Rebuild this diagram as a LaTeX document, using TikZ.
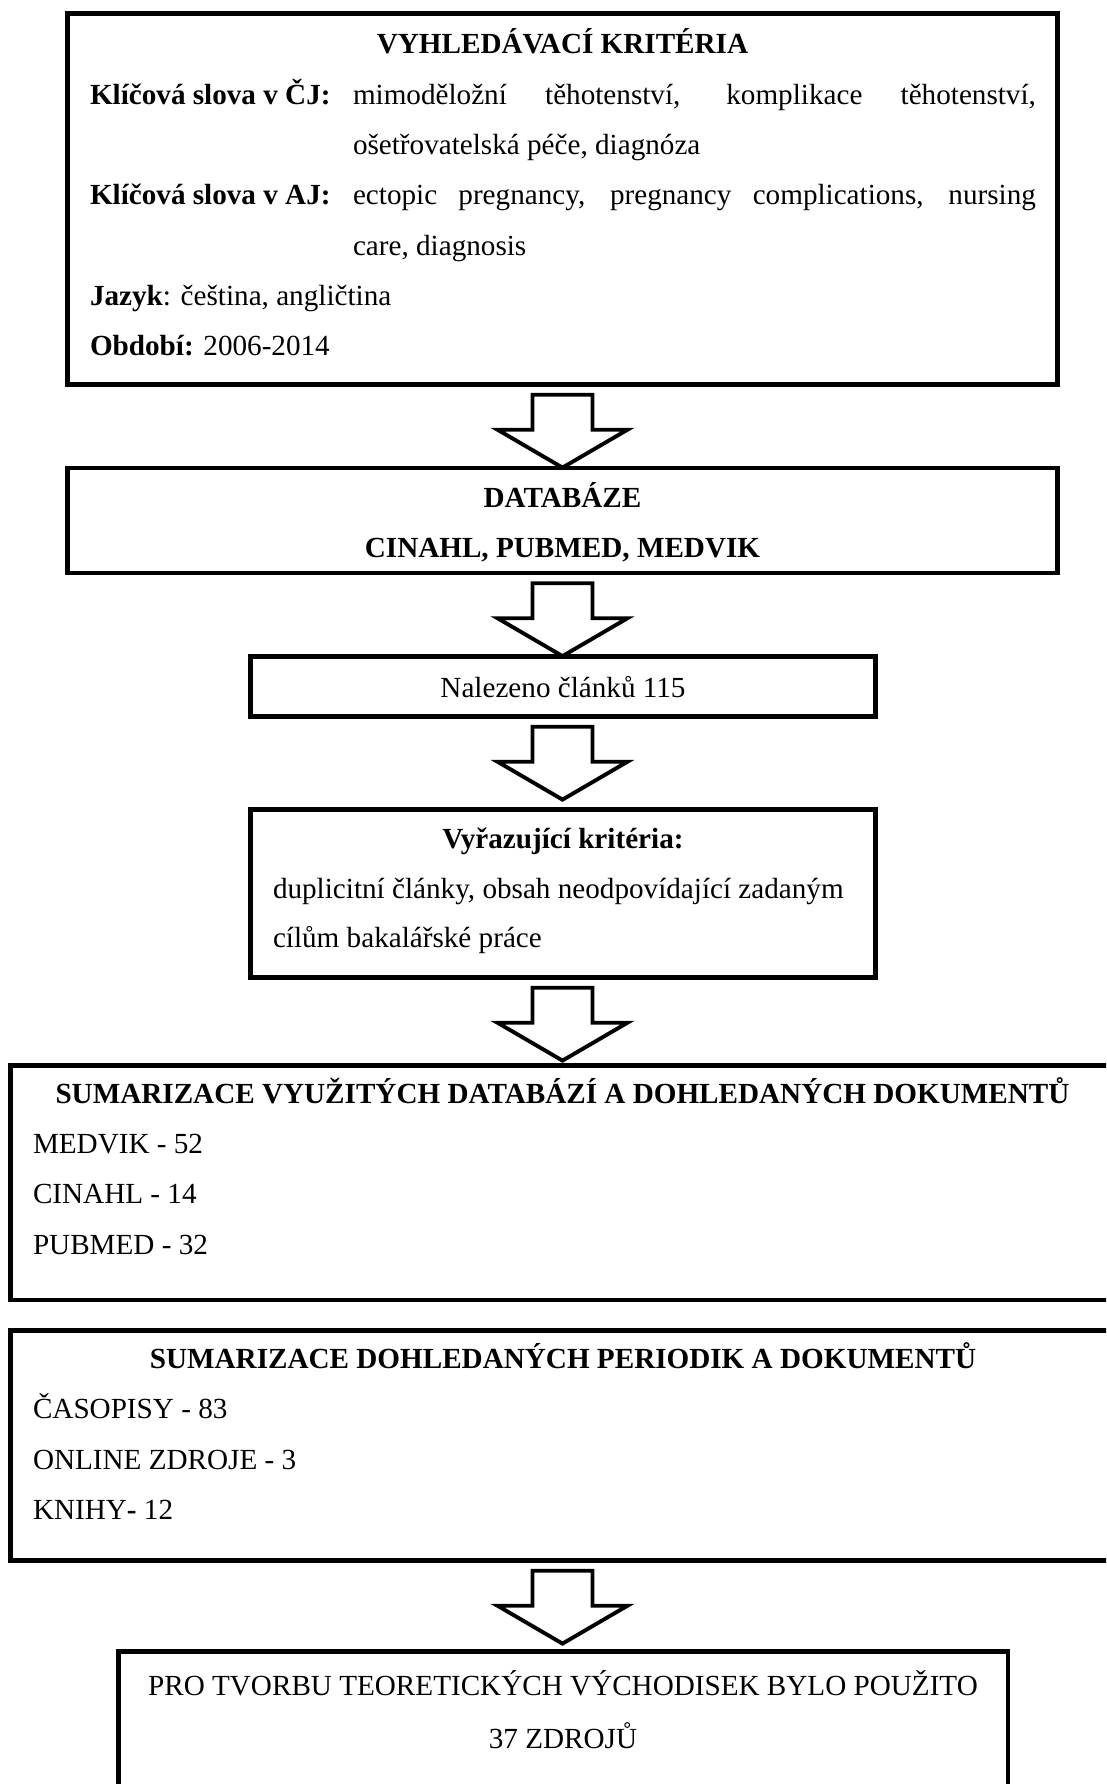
\documentclass[tikz,border=0pt]{standalone}
\usepackage{fontspec}
\setmainfont{Liberation Serif}
\usetikzlibrary{calc}
\tikzset{
  box/.style={draw, line width=2pt, rectangle, inner sep=0pt},
  txt/.style={inner sep=0pt, outer sep=0pt, font=\fontsize{12}{14}\selectfont},
  lft/.style={txt, anchor=base west},
  ctr/.style={txt, anchor=base},
  barrow/.style={draw, line width=1.6pt, fill=white, line join=miter},
}
\newcommand\blockarrow[2]{%
  \draw[barrow] let \p1=(#1.south), \p2=(#2.north), \p3=(b1.south) in
    (\x3-12.35pt,\y1-3.2pt) -- (\x3+12.35pt,\y1-3.2pt) -- (\x3+12.35pt,\y1-17.6pt)
    -- (\x3+26.75pt,\y1-17.6pt) -- (\x3,\y1-33.2pt) -- (\x3-26.75pt,\y1-17.6pt)
    -- (\x3-12.35pt,\y1-17.6pt) -- cycle;}
\begin{document}
\begin{tikzpicture}[x=0.4115pt, y=-0.4115pt]
\clip (0,0) rectangle (1106,1784);
\fill[white] (0,0) rectangle (1106,1784);

% boxes
\node[box, minimum width=990*0.4115pt, minimum height=371*0.4115pt] (b1) at (562.5,199) {};
\node[box, minimum width=990*0.4115pt, minimum height=105*0.4115pt] (b2) at (562.5,520.5) {};
\node[box, minimum width=625*0.4115pt, minimum height=60*0.4115pt] (b3) at (563,686.5) {};
\node[box, minimum width=625*0.4115pt, minimum height=168*0.4115pt] (b4) at (563,893.5) {};
\node[box, minimum width=1139.5*0.4115pt, minimum height=234.5*0.4115pt] (b5) at (580.25,1182.75) {};
\node[box, minimum width=1139.5*0.4115pt, minimum height=230*0.4115pt] (b6) at (580.25,1445.5) {};
\node[box, minimum width=889.5*0.4115pt, minimum height=220*0.4115pt] (b7) at (563.25,1761.5) {};

% arrows
\blockarrow{b1}{b2}
\blockarrow{b2}{b3}
\blockarrow{b3}{b4}
\blockarrow{b4}{b5}
\blockarrow{b6}{b7}

% box 1 text
\node[ctr] (t1) at (562.5,54) {\textbf{VYHLEDÁVACÍ KRITÉRIA}};
\node[lft] (l1) at (90,104.3) {\textbf{Klíčová slova v ČJ:}};
\node[lft] (v1) at (353,104.3) {\makebox[281pt][s]{mimoděložní těhotenství, komplikace těhotenství,}};
\node[lft] (v2) at (353,154.6) {ošetřovatelská péče, diagnóza};
\node[lft] (l2) at (90,204.9) {\textbf{Klíčová slova v AJ:}};
\node[lft] (v3) at (353,204.9) {\makebox[281pt][s]{ectopic pregnancy, pregnancy complications, nursing}};
\node[lft] (v4) at (353,255.2) {care, diagnosis};
\node[lft] (l3) at (90,305.5) {\textbf{Jazyk}: čeština, angličtina};
\node[lft] (l4) at (90,355.8) {\textbf{Období:} 2006-2014};

% box 2 text
\node[ctr] (t2) at (562.5,507) {\textbf{DATABÁZE}};
\node[ctr] (t3) at (562.5,557) {\textbf{CINAHL, PUBMED, MEDVIK}};

% box 3 text
\node[ctr] (t4) at (563,697) {Nalezeno článků 115};

% box 4 text
\node[ctr] (t5) at (563,848) {\textbf{Vyřazující kritéria:}};
\node[lft] (t6) at (273,898) {duplicitní články, obsah neodpovídající zadaným};
\node[lft] (t7) at (273,947.5) {cílům bakalářské práce};

% box 5 text
\node[ctr] (t8) at (562.5,1103) {\textbf{SUMARIZACE VYUŽITÝCH DATABÁZÍ A DOHLEDANÝCH DOKUMENTŮ}};
\node[lft] (t9) at (33,1153) {MEDVIK - 52};
\node[lft] (t10) at (33,1203.5) {CINAHL - 14};
\node[lft] (t11) at (33,1254) {PUBMED - 32};

% box 6 text
\node[ctr] (t12) at (563,1368) {\textbf{SUMARIZACE DOHLEDANÝCH PERIODIK A DOKUMENTŮ}};
\node[lft] (t13) at (33,1418.5) {ČASOPISY - 83};
\node[lft] (t14) at (33,1469) {ONLINE ZDROJE - 3};
\node[lft] (t15) at (33,1519.5) {KNIHY\textbf{-} 12};

% box 7 text
\node[ctr] (t16) at (563,1695) {PRO TVORBU TEORETICKÝCH VÝCHODISEK BYLO POUŽITO};
\node[ctr] (t17) at (563,1748) {37 ZDROJŮ};
\end{tikzpicture}
\end{document}
